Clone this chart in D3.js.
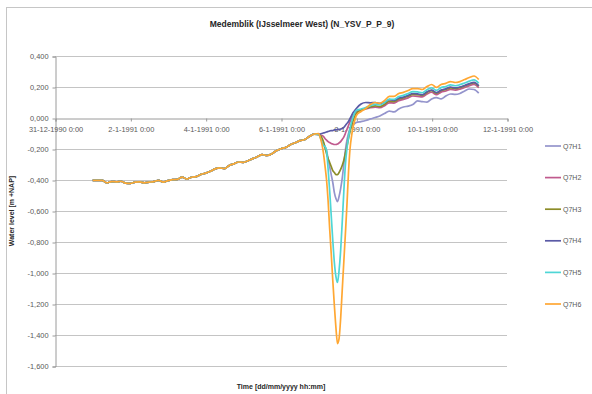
<!DOCTYPE html>
<html>
<head>
<meta charset="utf-8">
<script src="https://cdn.jsdelivr.net/npm/d3@7"></script>
<style>
  html, body { margin: 0; padding: 0; background: #fff; }
  svg { display: block; font-family: "Liberation Sans", Arial, sans-serif; }
</style>
</head>
<body>
<svg id="chart" width="592" height="394"></svg>
<script>
// ---- Data -------------------------------------------------------------
const chartTitle = "Medemblik (IJsselmeer West) (N_YSV_P_P_9)";
const yAxisTitle = "Water level [m +NAP]";
const xAxisTitle = "Time [dd/mm/yyyy hh:mm]";

const seriesNames  = ["Q7H1", "Q7H2", "Q7H3", "Q7H4", "Q7H5", "Q7H6"];
const seriesColors = ["#9494cc", "#c05a8e", "#8c8c28", "#5a5aa6", "#4fd6d6", "#ffa733"];

const yTicks = [-1.6, -1.4, -1.2, -1.0, -0.8, -0.6, -0.4, -0.2, 0.0, 0.2, 0.4];
const xTickLabels = ["31-12-1990 0:00", "2-1-1991 0:00", "4-1-1991 0:00", "6-1-1991 0:00",
                     "8-1-1991 0:00", "10-1-1991 0:00", "12-1-1991 0:00"];

// time stamps, hours after 1-1-1991 0:00
const hoursShared = d3.range(0, 144, 3);     // 3-hourly, common to all runs
const hoursEvent  = d3.range(144, 169, 1);   // hourly, around the drawdown
const hoursLate   = d3.range(171, 247, 3);   // 3-hourly, recovery

// water level common to all runs before the event [m +NAP]
const sharedLevel = [
  -0.403, -0.403, -0.402, -0.418, -0.410, -0.412, -0.408, -0.420,
  -0.422, -0.414, -0.412, -0.418, -0.414, -0.410, -0.402, -0.414,
  -0.404, -0.398, -0.396, -0.382, -0.394, -0.382, -0.378, -0.364,
  -0.356, -0.344, -0.328, -0.322, -0.326, -0.306, -0.296, -0.284,
  -0.286, -0.276, -0.262, -0.250, -0.236, -0.242, -0.232, -0.212,
  -0.198, -0.190, -0.172, -0.160, -0.146, -0.140, -0.120, -0.104
];

// hourly levels during the drawdown, per run
const eventQ7H1 = [-0.106, -0.119, -0.139, -0.158, -0.184, -0.210, -0.261, -0.313, -0.365, -0.416,
                   -0.481, -0.519, -0.539, -0.506, -0.455, -0.390, -0.300, -0.210, -0.145, -0.100,
                   -0.068, -0.055, -0.042, -0.035, -0.029];
const eventQ7H2 = [-0.106, -0.110, -0.113, -0.119, -0.132, -0.142, -0.152, -0.158, -0.165, -0.168,
                   -0.171, -0.171, -0.168, -0.161, -0.152, -0.139, -0.123, -0.100, -0.074, -0.048,
                   -0.023, -0.003, 0.016, 0.029, 0.042];
const eventQ7H3 = [-0.106, -0.113, -0.126, -0.152, -0.190, -0.229, -0.261, -0.287, -0.313, -0.339,
                   -0.352, -0.365, -0.365, -0.352, -0.332, -0.306, -0.274, -0.229, -0.184, -0.132,
                   -0.087, -0.048, -0.016, 0.010, 0.029];
const eventQ7H4 = [-0.106, -0.103, -0.100, -0.097, -0.094, -0.090, -0.087, -0.084, -0.081, -0.081,
                   -0.077, -0.077, -0.074, -0.074, -0.071, -0.068, -0.061, -0.048, -0.035, -0.023,
                   -0.003, 0.016, 0.035, 0.048, 0.061];
const eventQ7H5 = [-0.106, -0.126, -0.152, -0.177, -0.184, -0.210, -0.326, -0.468, -0.629, -0.790,
                   -0.932, -1.023, -1.061, -0.984, -0.855, -0.674, -0.481, -0.306, -0.197, -0.126,
                   -0.068, -0.023, 0.010, 0.035, 0.048];
const eventQ7H6 = [-0.100, -0.126, -0.165, -0.223, -0.306, -0.397, -0.532, -0.713, -0.874, -1.048,
                   -1.210, -1.352, -1.455, -1.423, -1.294, -1.113, -0.932, -0.752, -0.565, -0.352,
                   -0.197, -0.113, -0.055, -0.016, 0.016];

// 3-hourly levels during the recovery, per run
const lateQ7H1 = [-0.023, -0.016, -0.006, 0.003, 0.013, 0.029, 0.045, 0.039, 0.058, 0.071,
                  0.077, 0.087, 0.110, 0.106, 0.103, 0.123, 0.132, 0.123, 0.142, 0.155,
                  0.152, 0.158, 0.174, 0.187, 0.184, 0.161];
const lateQ7H2 = [0.052, 0.058, 0.066, 0.070, 0.066, 0.079, 0.098, 0.096, 0.112, 0.120,
                  0.130, 0.142, 0.140, 0.136, 0.155, 0.166, 0.150, 0.167, 0.174, 0.185,
                  0.180, 0.186, 0.197, 0.209, 0.216, 0.195];
const lateQ7H3 = [0.050, 0.062, 0.072, 0.078, 0.074, 0.088, 0.108, 0.106, 0.122, 0.130,
                  0.140, 0.152, 0.150, 0.146, 0.165, 0.176, 0.160, 0.177, 0.184, 0.195,
                  0.190, 0.196, 0.207, 0.219, 0.226, 0.205];
const lateQ7H4 = [0.090, 0.100, 0.098, 0.100, 0.094, 0.100, 0.118, 0.114, 0.128, 0.135,
                  0.146, 0.158, 0.156, 0.150, 0.170, 0.180, 0.164, 0.180, 0.188, 0.200,
                  0.194, 0.200, 0.210, 0.222, 0.230, 0.208];
const lateQ7H5 = [0.058, 0.068, 0.080, 0.088, 0.084, 0.100, 0.122, 0.120, 0.138, 0.146,
                  0.158, 0.170, 0.168, 0.163, 0.183, 0.195, 0.178, 0.196, 0.203, 0.214,
                  0.208, 0.215, 0.226, 0.238, 0.246, 0.224];
const lateQ7H6 = [0.042, 0.061, 0.087, 0.100, 0.094, 0.113, 0.139, 0.139, 0.158, 0.165,
                  0.177, 0.190, 0.190, 0.184, 0.203, 0.216, 0.197, 0.216, 0.223, 0.235,
                  0.229, 0.235, 0.248, 0.261, 0.271, 0.248];

const eventLevels = [eventQ7H1, eventQ7H2, eventQ7H3, eventQ7H4, eventQ7H5, eventQ7H6];
const lateLevels  = [lateQ7H1, lateQ7H2, lateQ7H3, lateQ7H4, lateQ7H5, lateQ7H6];

// ---- Build series ------------------------------------------------------
const t0 = Date.UTC(1991, 0, 1);
const hours = hoursShared.concat(hoursEvent, hoursLate);
const series = seriesNames.map((name, i) => {
  const vals = sharedLevel.concat(eventLevels[i], lateLevels[i]);
  return {
    name, color: seriesColors[i],
    points: hours.map((h, k) => ({ t: new Date(t0 + h * 3600e3), v: vals[k] }))
  };
});

// ---- Layout ------------------------------------------------------------
const svg = d3.select("#chart");
const plot = { left: 55, right: 507, top: 56, bottom: 366 };

const x = d3.scaleUtc()
  .domain([new Date(Date.UTC(1990, 11, 31)), new Date(Date.UTC(1991, 0, 12))])
  .range([plot.left, plot.right]);
const y = d3.scaleLinear().domain([-1.6, 0.4]).range([plot.bottom, plot.top]);

const nl = d3.formatLocale({ decimal: ",", thousands: ".", grouping: [3], currency: ["", ""], minus: "-" });
const fmtY = nl.format(".3f");

// chart-area frame
svg.append("rect")
  .attr("x", 6.5).attr("y", 7.5).attr("width", 700).attr("height", 500)
  .attr("fill", "none").attr("stroke", "#c6c6c6").attr("stroke-width", 1);

// title
svg.append("text")
  .attr("x", 302).attr("y", 27)
  .attr("text-anchor", "middle")
  .attr("font-size", 8.5).attr("font-weight", "bold").attr("fill", "#262626")
  .text(chartTitle);

// horizontal gridlines
svg.append("g")
  .selectAll("line").data(yTicks.filter(v => v !== 0)).join("line")
  .attr("x1", plot.left).attr("x2", plot.right)
  .attr("y1", d => Math.round(y(d)) + 0.5).attr("y2", d => Math.round(y(d)) + 0.5)
  .attr("stroke", "#c4c4c4").attr("stroke-width", 1.2);

// y axis
const yAxis = d3.axisLeft(y).tickValues(yTicks).tickFormat(fmtY).tickSize(3).tickPadding(4);
const gy = svg.append("g").attr("transform", `translate(${plot.left + 0.5},0.5)`).call(yAxis);
gy.select(".domain").attr("stroke", "#9a9a9a");
gy.selectAll(".tick line").attr("stroke", "#9a9a9a");
gy.selectAll(".tick text")
  .attr("font-size", 7.4).attr("fill", "#595959")
  .attr("font-family", "'Liberation Sans', Arial, sans-serif");

// x axis on the zero line
const xTickDates = d3.range(0, 13, 2).map(d => new Date(Date.UTC(1990, 11, 31 + d)));
const xAxis = d3.axisBottom(x).tickValues(xTickDates)
  .tickFormat((d, i) => xTickLabels[i]).tickSize(3).tickPadding(5);
const gx = svg.append("g").attr("transform", `translate(0.5,${Math.round(y(0)) + 0.5})`).call(xAxis);
gx.select(".domain").attr("stroke", "#9a9a9a");
gx.selectAll(".tick line").attr("stroke", "#9a9a9a");
gx.selectAll(".tick text")
  .attr("font-size", 7.4).attr("fill", "#595959")
  .attr("font-family", "'Liberation Sans', Arial, sans-serif");

// axis titles
svg.append("text")
  .attr("transform", `translate(14,${(plot.top + plot.bottom) / 2}) rotate(-90)`)
  .attr("text-anchor", "middle")
  .attr("font-size", 7).attr("font-weight", "bold").attr("fill", "#262626")
  .text(yAxisTitle);
svg.append("text")
  .attr("x", (plot.left + plot.right) / 2).attr("y", 389)
  .attr("text-anchor", "middle")
  .attr("font-size", 7).attr("font-weight", "bold").attr("fill", "#262626")
  .text(xAxisTitle);

// series lines
const line = d3.line()
  .x(d => x(d.t)).y(d => y(d.v))
  .curve(d3.curveMonotoneX);
svg.append("g")
  .selectAll("path").data(series).join("path")
  .attr("d", d => line(d.points))
  .attr("fill", "none")
  .attr("stroke", d => d.color)
  .attr("stroke-width", 1.7)
  .attr("stroke-linejoin", "round");

// legend
const legend = svg.append("g")
  .selectAll("g").data(series).join("g")
  .attr("transform", (d, i) => `translate(545,${146 + i * 31.6})`);
legend.append("line")
  .attr("x1", 0).attr("x2", 16).attr("y1", 0).attr("y2", 0)
  .attr("stroke", d => d.color).attr("stroke-width", 1.7);
legend.append("text")
  .attr("x", 18).attr("y", 2.5)
  .attr("font-size", 7).attr("fill", "#595959")
  .text(d => d.name);
</script>
</body>
</html>
